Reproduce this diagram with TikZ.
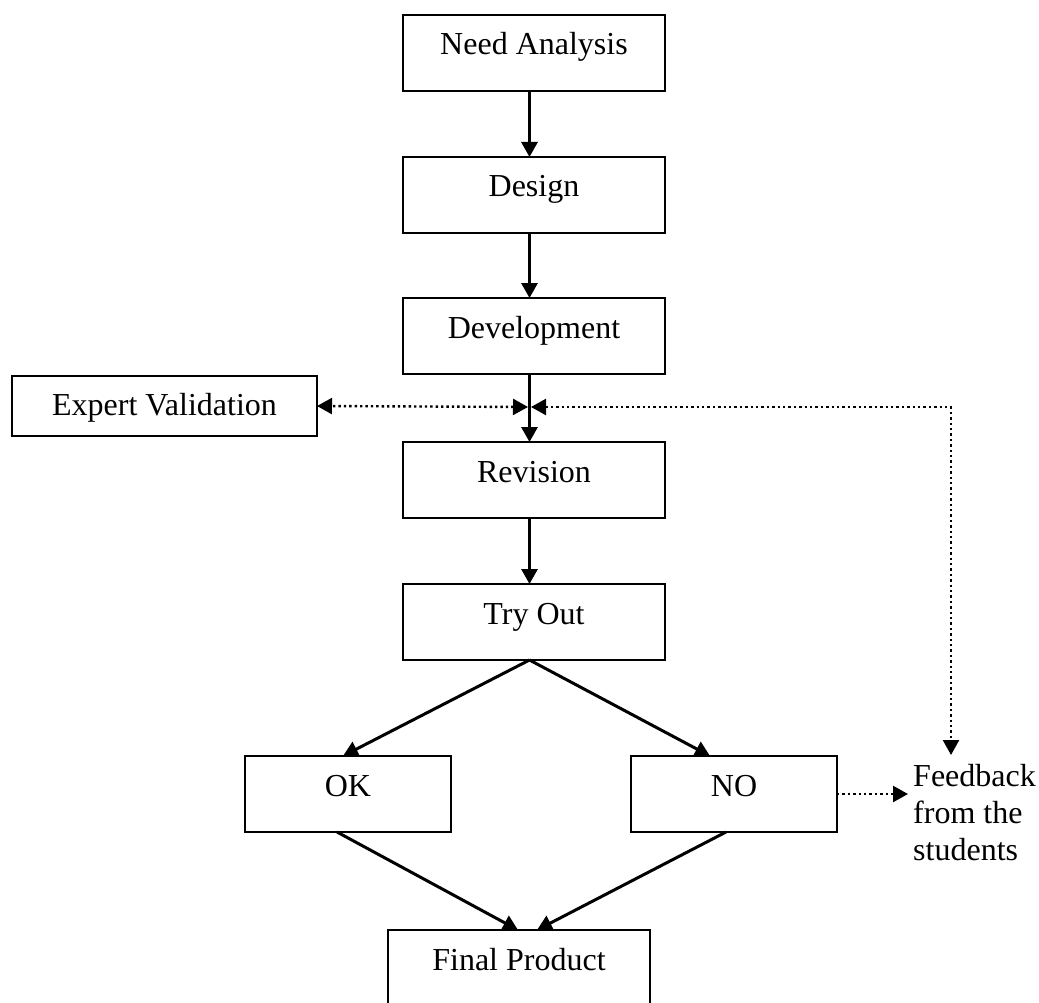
\documentclass[tikz,border=0pt]{standalone}
\usepackage{fontspec}
\setmainfont{Liberation Serif}
\usetikzlibrary{arrows.meta}
\begin{document}
\begin{tikzpicture}[x=1pt,y=-1pt,
  stage/.style={draw, line width=2pt, inner sep=0pt, outer sep=0pt, anchor=north west,
    minimum width=262pt, minimum height=76pt, text height=40pt, text depth=36pt,
    font=\fontsize{32pt}{36pt}\selectfont},
  flow/.style={line width=3pt, -{Triangle[length=15pt,width=16pt]}},
  cue/.style={line width=2.4pt, dash pattern=on 2.4pt off 3pt},
]
\clip (0,0) rectangle (1039,1003);

% process stages
\node[stage] (need)   at (403,15)  {Need Analysis};
\node[stage] (design) at (403,157) {Design};
\node[stage] (devel)  at (403,298) {Development};
\node[stage] (rev)    at (403,442) {Revision};
\node[stage] (try)    at (403,584) {Try Out};
\node[stage, minimum width=206pt] (ok) at (245,756) {OK};
\node[stage, minimum width=206pt] (no) at (631,756) {NO};
\node[stage] (final)  at (388,930) {Final Product};
\node[stage, minimum width=305pt, minimum height=60pt, text height=39pt, text depth=21pt]
  (expert) at (12,376) {Expert Validation};
\node[font=\fontsize{32pt}{37pt}\selectfont, align=left, anchor=base west, inner sep=0pt]
  (fb) at (913,860) {Feedback\\from the\\students};

% helper points of the main line and of the feedback loop
\coordinate (spine)  at (529.5,0);
\coordinate (junc)   at (529.5,407);
\coordinate (corner) at (951,407);
\coordinate (fbtip)  at (951,755);

% main flow
\draw[flow] (need.south -| spine)   -- (design.north -| spine);
\draw[flow] (design.south -| spine) -- (devel.north -| spine);
\draw[flow] (devel.south -| spine)  -- (rev.north -| spine);
\draw[flow] (rev.south -| spine)    -- (try.north -| spine);
\draw[flow] (try.south -| spine) -- ([xshift=-5pt]ok.north);
\draw[flow] (try.south -| spine) -- ([xshift=-24pt]no.north);
\draw[flow] ([xshift=-11pt]ok.south) -- ([xshift=-1pt]final.north);
\draw[flow] ([xshift=-8pt]no.south)  -- ([xshift=18pt]final.north);

% validation and feedback links
\draw[cue, {Triangle[length=15pt,width=16pt]}-{Triangle[length=15pt,width=16pt]}]
  ([xshift=-1.5pt]junc) -- (expert.east);
\draw[cue, {Triangle[length=15pt,width=16pt]}-{Triangle[length=15pt,width=16pt]}]
  ([xshift=1.5pt]junc) -- (corner) -- (fbtip);
\draw[cue, -{Triangle[length=15pt,width=16pt]}]
  (no.east) -- ([xshift=-5pt]no.east -| fb.west);
\end{tikzpicture}
\end{document}
